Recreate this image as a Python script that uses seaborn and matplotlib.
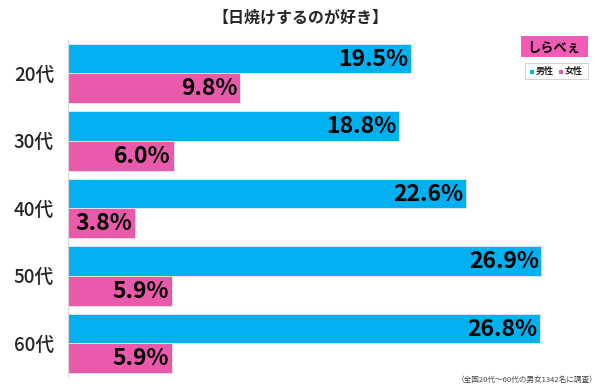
import matplotlib
matplotlib.use("Agg")
import matplotlib.pyplot as plt
import seaborn as sns
import pandas as pd
from matplotlib.patches import Rectangle

sns.set_theme(style="white")
plt.rcParams['font.family'] = ['Noto Sans CJK JP', 'DejaVu Sans']

categories = ["20代", "30代", "40代", "50代", "60代"]
male = [19.5, 18.8, 22.6, 26.9, 26.8]
female = [9.8, 6.0, 3.8, 5.9, 5.9]
series = ["男性", "女性"]
title = "【日焼けするのが好き】"
note = "（全国20代～60代の男女1342名に調査）"

df = pd.DataFrame({
    "age": categories * 2,
    "value": male + female,
    "sex": [series[0]] * len(categories) + [series[1]] * len(categories),
})

colors = ["#00B0EF", "#E95AAA"]

fig = plt.figure(figsize=(6, 3.88), dpi=100)
ax = fig.add_axes([0.1133, 0.028, 0.883, 0.870])
sns.barplot(data=df, y="age", x="value", hue="sex", palette=colors,
            orient="h", width=0.88, ax=ax, legend=False, saturation=1,
            edgecolor="#e8e8e8", linewidth=0.6)
ax.set_xlim(0, 30.1)
ax.set_xlabel("")
ax.set_ylabel("")
ax.set_xticks([])
ax.tick_params(axis="y", length=0, labelsize=13.5, pad=10)
for lab in ax.get_yticklabels():
    lab.set_fontweight("medium")
for s in ["top", "right", "bottom"]:
    ax.spines[s].set_visible(False)
ax.spines["left"].set_color("#d8d8d8")
ax.spines["left"].set_linewidth(0.8)

for cont in ax.containers:
    for bar in cont:
        w = bar.get_width()
        ax.text(w - 0.15, bar.get_y() + bar.get_height() / 2 + 0.01, f"{w:.1f}%",
                ha="right", va="center", fontsize=16.5, fontweight="bold", color="black")

fig.text(0.5, 0.955, title, ha="center", va="center", fontsize=11.5, fontweight="bold")
fig.text(0.995, 0.02, note, ha="right", va="center", fontsize=5.5, color="#444444")

# logo
fig.patches.append(Rectangle((521/600, 1-57/388), 67/600, 21/388, transform=fig.transFigure,
                             facecolor="#F25CB8", edgecolor="none"))
fig.text(554/600, 1-48/388, "しらべぇ", ha="center", va="center", fontsize=9.5,
         fontweight="bold", color="black")
# legend box
fig.patches.append(Rectangle((525/600, 1-79/388), 63/600, 16/388, transform=fig.transFigure,
                             facecolor="white", edgecolor="#cccccc", linewidth=0.6))
fig.patches.append(Rectangle((530/600, 1-73.5/388), 4/600, 4/388, transform=fig.transFigure,
                             facecolor=colors[0], edgecolor="none"))
fig.text(536/600, 1-71/388, series[0], ha="left", va="center", fontsize=6.5, fontweight="bold")
fig.patches.append(Rectangle((559/600, 1-73.5/388), 4/600, 4/388, transform=fig.transFigure,
                             facecolor=colors[1], edgecolor="none"))
fig.text(565/600, 1-71/388, series[1], ha="left", va="center", fontsize=6.5, fontweight="bold")

fig.savefig("out.png", dpi=100)
